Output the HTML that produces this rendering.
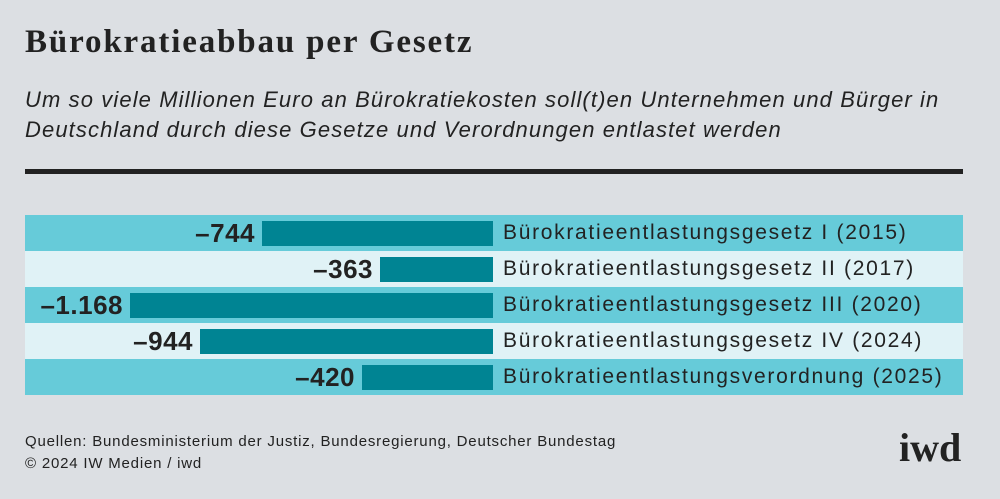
<!DOCTYPE html>
<html><head><meta charset="utf-8"><style>
body{margin:0;width:1000px;height:499px;background:#dcdfe3;position:relative;overflow:hidden;font-family:"Liberation Sans",sans-serif;color:#222}
.a{position:absolute;white-space:nowrap}
.row{position:absolute;left:25px;width:938px;height:36px}
.bar{position:absolute;height:25px;background:#008493;top:6px}
.val{position:absolute;font-weight:bold;font-size:26px;line-height:36px;text-align:right;width:200px;letter-spacing:0.5px}
.lab{position:absolute;left:503px;font-size:21px;line-height:36px;letter-spacing:1.7px}
</style></head><body>
<div class="a" style="left:25px;top:24px;font-family:'Liberation Serif',serif;font-weight:bold;font-size:33px;letter-spacing:1.85px">Bürokratieabbau per Gesetz</div>
<div class="a" style="left:25px;top:85px;font-style:italic;font-size:22px;line-height:30px;letter-spacing:1.1px">Um so viele Millionen Euro an Bürokratiekosten soll(t)en Unternehmen und Bürger in<br>Deutschland durch diese Gesetze und Verordnungen entlastet werden</div>
<div class="a" style="left:25px;top:169px;width:938px;height:5px;background:#222"></div>

<div class="row" style="top:215px;background:#66cbd9"></div>
<div class="row" style="top:251px;background:#e0f2f6"></div>
<div class="row" style="top:287px;background:#66cbd9"></div>
<div class="row" style="top:323px;background:#e0f2f6"></div>
<div class="row" style="top:359px;background:#66cbd9"></div>

<div class="bar" style="left:262px;width:231px;top:221px"></div>
<div class="bar" style="left:380px;width:113px;top:257px"></div>
<div class="bar" style="left:130px;width:363px;top:293px"></div>
<div class="bar" style="left:200px;width:293px;top:329px"></div>
<div class="bar" style="left:362px;width:131px;top:365px"></div>

<div class="val" style="left:55px;top:215px">–744</div>
<div class="val" style="left:173px;top:251px">–363</div>
<div class="val" style="left:-77px;top:287px">–1.168</div>
<div class="val" style="left:-7px;top:323px">–944</div>
<div class="val" style="left:155px;top:359px">–420</div>

<div class="lab" style="top:215px">Bürokratieentlastungsgesetz I (2015)</div>
<div class="lab" style="top:251px">Bürokratieentlastungsgesetz II (2017)</div>
<div class="lab" style="top:287px">Bürokratieentlastungsgesetz III (2020)</div>
<div class="lab" style="top:323px">Bürokratieentlastungsgesetz IV (2024)</div>
<div class="lab" style="top:359px">Bürokratieentlastungsverordnung (2025)</div>

<div class="a" style="left:25px;top:431px;font-size:15px;line-height:22px;letter-spacing:0.8px">Quellen: Bundesministerium der Justiz, Bundesregierung, Deutscher Bundestag<br>© 2024 IW Medien / iwd</div>
<div class="a" style="left:899px;top:426px;font-family:'Liberation Serif',serif;font-weight:bold;font-size:40px;line-height:44px">iwd</div>
</body></html>
